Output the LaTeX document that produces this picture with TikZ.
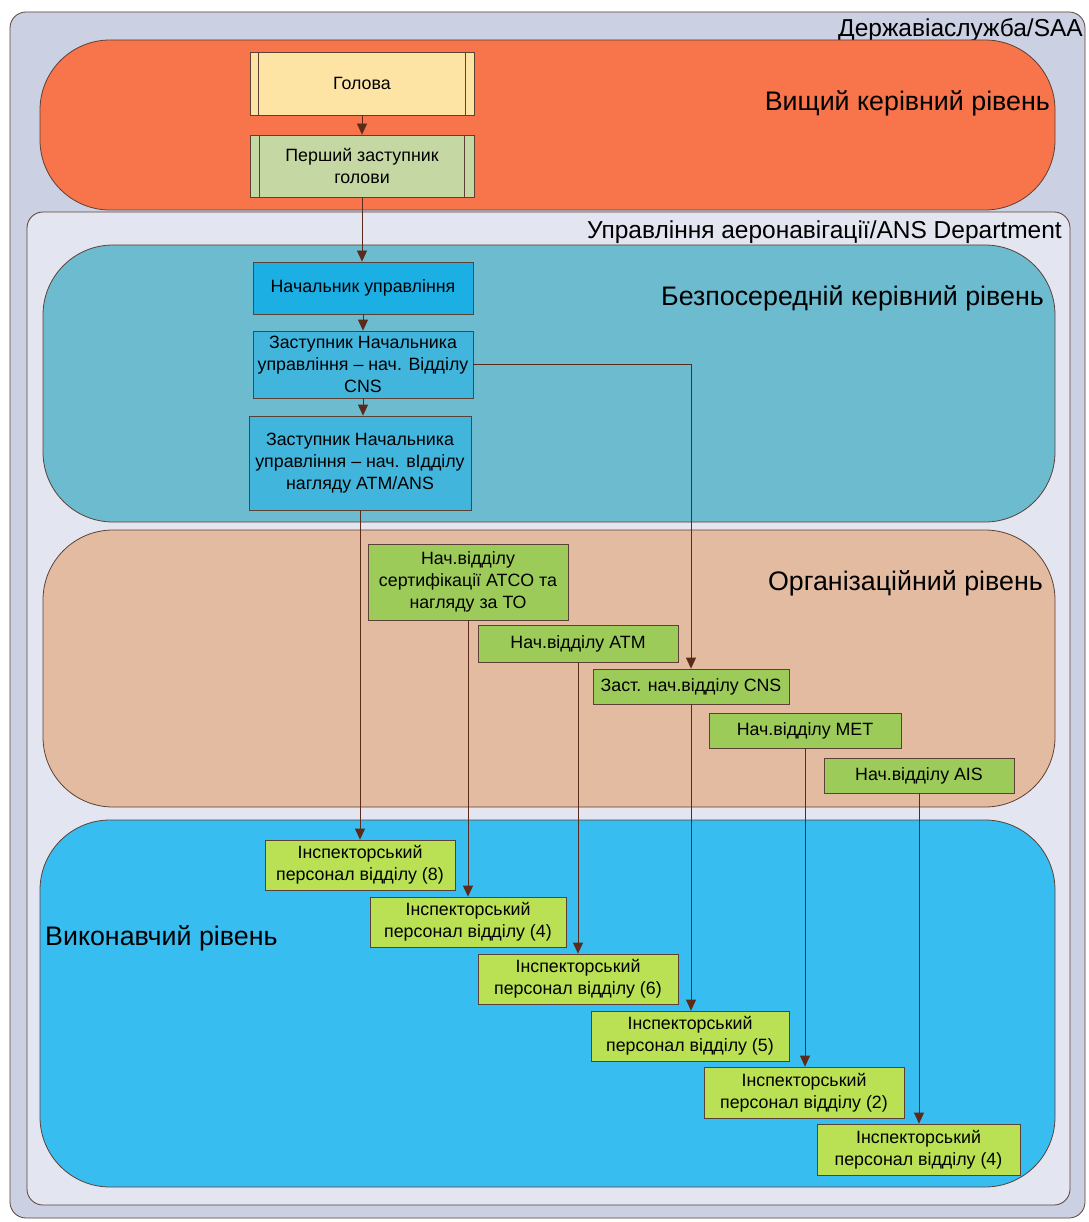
\documentclass[tikz,border=0pt]{standalone}
\usepackage{fontspec}
\setmainfont{Liberation Sans}
\usetikzlibrary{arrows.meta}
\definecolor{frameA}{HTML}{CBD0E2}
\definecolor{frameB}{HTML}{E3E6F0}
\definecolor{pillRed}{HTML}{F8744A}
\definecolor{pillTeal}{HTML}{6CBBCF}
\definecolor{pillPeach}{HTML}{E3BBA0}
\definecolor{pillBlue}{HTML}{38BDF0}
\definecolor{cHead}{HTML}{FDE4A5}
\definecolor{cFirst}{HTML}{C5D8A3}
\definecolor{cNach}{HTML}{1CAFE4}
\definecolor{cZast}{HTML}{42B5DD}
\definecolor{cOrg}{HTML}{9DCB59}
\definecolor{cInsp}{HTML}{B9E153}
\definecolor{edge}{HTML}{5B4035}
\definecolor{arr}{HTML}{5A2A1A}
\begin{document}
\begin{tikzpicture}[x=1pt,y=-1pt,
  frame/.style={draw=edge,line width=0.8pt,rounded corners=16pt},
  pill/.style={draw=edge,line width=0.8pt,rounded corners=70pt},
  box/.style={draw=edge,line width=0.8pt,inner sep=0pt,align=center,
     font=\fontsize{17.8}{22}\selectfont},
  biglabel/.style={inner sep=0pt,font=\fontsize{26.8}{30}\selectfont},
  framelabel/.style={inner sep=0pt,font=\fontsize{24.5}{28}\selectfont},
  conn/.style={draw=arr,line width=0.8pt,-{Triangle[width=10pt,length=11pt]}}]
\useasboundingbox (0,0) rectangle (1088,1222);
\fill[white] (0,0) rectangle (1088,1222);
% frames
\draw[frame,fill=frameA] (10,12) rectangle (1085,1218);
\node[framelabel,anchor=east] (saa) at (1083,30) {Державіаслужба/SAA};
\draw[pill,fill=pillRed] (40,40) rectangle (1055,210);
\node[biglabel,anchor=east] (l1) at (1050,103) {Вищий керівний рівень};
\draw[frame,fill=frameB] (27,212) rectangle (1070,1205);
\node[framelabel,anchor=east] (ans) at (1062,232) {Управління аеронавігації/ANS Department};
\draw[pill,fill=pillTeal] (43,245) rectangle (1055,522);
\node[biglabel,anchor=east] (l2) at (1044,298) {Безпосередній керівний рівень};
\draw[pill,fill=pillPeach] (43,530) rectangle (1055,807);
\node[biglabel,anchor=east] (l3) at (1043,583) {Організаційний рівень};
\draw[pill,fill=pillBlue] (40,820) rectangle (1055,1187);
\node[biglabel,anchor=west] (l4) at (45,938) {Виконавчий рівень};
% top level
\node[box,fill=cHead,minimum width=224pt,minimum height=63pt] (head) at (362,83.5) {Голова};
\draw[edge,line width=0.8pt] ([xshift=9pt]head.north west) -- ([xshift=9pt]head.south west)
  ([xshift=-9pt]head.north east) -- ([xshift=-9pt]head.south east);
\node[box,fill=cFirst,minimum width=224pt,minimum height=62pt] (first) at (362,166) {Перший заступник\\голови};
\draw[edge,line width=0.8pt] ([xshift=10pt]first.north west) -- ([xshift=10pt]first.south west)
  ([xshift=-10pt]first.north east) -- ([xshift=-10pt]first.south east);
% direct level
\node[box,fill=cNach,minimum width=220pt,minimum height=52pt] (nach) at (363,288) {Начальник управління};
\node[box,fill=cZast,minimum width=220pt,minimum height=67pt] (zcns) at (363,364.5) {Заступник Начальника\\управління – нач. Відділу\\CNS};
\node[box,fill=cZast,minimum width=222pt,minimum height=94pt] (zatm) at (360,463) {Заступник Начальника\\управління – нач. вІдділу\\нагляду ATM/ANS};
% organizational
\node[box,fill=cOrg,minimum width=200pt,minimum height=76pt] (cert) at (468,582) {Нач.відділу\\сертифікації ATCO та\\нагляду за ТО};
\node[box,fill=cOrg,minimum width=200pt,minimum height=37pt] (atm) at (578,643.5) {Нач.відділу ATM};
\node[box,fill=cOrg,minimum width=196pt,minimum height=35pt] (cns) at (691,686.5) {Заст. нач.відділу CNS};
\node[box,fill=cOrg,minimum width=192pt,minimum height=35pt] (met) at (805,730.5) {Нач.відділу MET};
\node[box,fill=cOrg,minimum width=190pt,minimum height=35pt] (ais) at (919,775.5) {Нач.відділу AIS};
% executive
\node[box,fill=cInsp,minimum width=190pt,minimum height=50pt] (i1) at (360,865) {Інспекторський\\персонал відділу (8)};
\node[box,fill=cInsp,minimum width=196pt,minimum height=50pt] (i2) at (468,922) {Інспекторський\\персонал відділу (4)};
\node[box,fill=cInsp,minimum width=200pt,minimum height=50pt] (i3) at (578,979) {Інспекторський\\персонал відділу (6)};
\node[box,fill=cInsp,minimum width=198pt,minimum height=50pt] (i4) at (690,1036) {Інспекторський\\персонал відділу (5)};
\node[box,fill=cInsp,minimum width=200pt,minimum height=51pt] (i5) at (804,1092.5) {Інспекторський\\персонал відділу (2)};
\node[box,fill=cInsp,minimum width=203pt,minimum height=51pt] (i6) at (918.5,1149.5) {Інспекторський\\персонал відділу (4)};
% connectors
\draw[conn] (head.south) -- (first.north);
\draw[conn] (first.south) -- (first.south |- nach.north);
\draw[conn] (nach.south) -- (zcns.north);
\draw[conn] (zcns.south) -- (zcns.south |- zatm.north);
\draw[conn] (zcns.east) -| (cns.north);
\draw[conn] (zatm.south) -- (zatm.south |- i1.north);
\draw[conn] (cert.south) -- (cert.south |- i2.north);
\draw[conn] (atm.south) -- (atm.south |- i3.north);
\draw[conn] (cns.south) -- (cns.south |- i4.north);
\draw[conn] (met.south) -- (met.south |- i5.north);
\draw[conn] (ais.south) -- (ais.south |- i6.north);
\end{tikzpicture}
\end{document}
